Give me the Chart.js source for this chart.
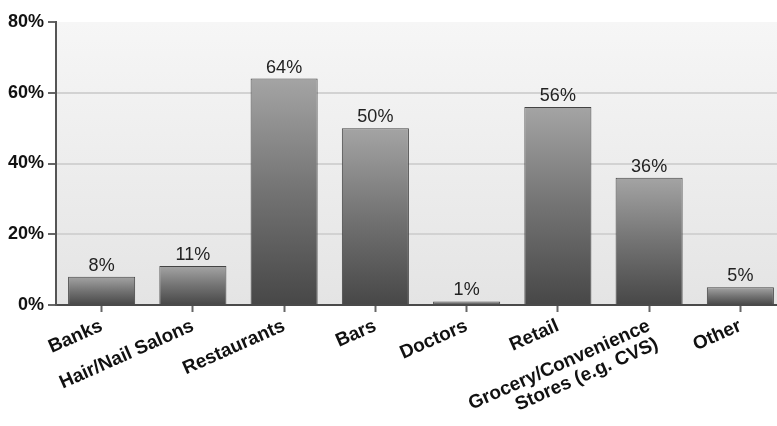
<!DOCTYPE html>
<html>
<head>
<meta charset="utf-8">
<script src="https://cdn.jsdelivr.net/npm/chart.js@4"></script>
<style>
  html, body { margin: 0; padding: 0; background: #ffffff; overflow: hidden; }
  #wrap { position: relative; width: 790px; height: 426px; }
</style>
</head>
<body>
<div id="wrap"><canvas id="c"></canvas></div>
<script>
const categories = [
  'Banks',
  'Hair/Nail Salons',
  'Restaurants',
  'Bars',
  'Doctors',
  'Retail',
  ['Grocery/Convenience', 'Stores (e.g. CVS)'],
  'Other'
];
const percentValues = [8, 11, 64, 50, 1, 56, 36, 5];
const yTickValues = [0, 20, 40, 60, 80];

const bgPlugin = {
  id: 'bgPlugin',
  beforeDraw(chart) {
    const { ctx, chartArea: a } = chart;
    ctx.save();
    ctx.fillStyle = '#ffffff';
    ctx.fillRect(0, 0, chart.width, chart.height);
    const g = ctx.createLinearGradient(0, a.top, 0, a.bottom);
    g.addColorStop(0, '#f6f6f6');
    g.addColorStop(1, '#e4e4e4');
    ctx.fillStyle = g;
    ctx.fillRect(a.left, a.top, a.right - a.left, a.bottom - a.top);
    ctx.restore();
  }
};

const labelPlugin = {
  id: 'labelPlugin',
  afterDatasetsDraw(chart) {
    const { ctx } = chart;
    const meta = chart.getDatasetMeta(0);
    ctx.save();
    ctx.font = '18px "Liberation Sans", Arial, sans-serif';
    ctx.fillStyle = '#222222';
    ctx.textAlign = 'center';
    ctx.textBaseline = 'bottom';
    meta.data.forEach((bar, i) => {
      ctx.fillText(percentValues[i] + '%', bar.x, bar.y - 2);
    });
    ctx.restore();
  }
};

function barGradient(context) {
  const chart = context.chart;
  const y = chart.scales && chart.scales.y;
  if (!y || !chart.chartArea || context.parsed === undefined) return '#777777';
  const top = y.getPixelForValue(context.parsed.y);
  const bottom = y.getPixelForValue(0);
  const g = chart.ctx.createLinearGradient(0, top, 0, bottom);
  g.addColorStop(0, '#a4a4a4');
  g.addColorStop(0.5, '#737373');
  g.addColorStop(1, '#474747');
  return g;
}

new Chart(document.getElementById('c'), {
  type: 'bar',
  data: {
    labels: categories,
    datasets: [{
      data: percentValues,
      backgroundColor: barGradient,
      borderColor: '#444444',
      borderWidth: 1,
      barPercentage: 0.735,
      categoryPercentage: 1.0
    }]
  },
  options: {
    responsive: true,
    maintainAspectRatio: false,
    animation: false,
    devicePixelRatio: 1,
    layout: { padding: { top: 22, right: 4, left: 0, bottom: 0 } },
    plugins: {
      legend: { display: false },
      tooltip: { enabled: false }
    },
    scales: {
      x: {
        offset: true,
        grid: {
          offset: false,
          drawOnChartArea: false,
          drawTicks: true,
          tickLength: 7,
          tickColor: '#666666',
          tickWidth: 2
        },
        border: { display: true, color: '#4a4a4a', width: 2 },
        ticks: {
          autoSkip: false,
          minRotation: 24,
          maxRotation: 24,
          padding: 4,
          color: '#111111',
          font: { family: '"Liberation Sans", Arial, sans-serif', size: 19, weight: 'bold', lineHeight: 1.05 }
        },
        afterFit(scale) { scale.height = 121; }
      },
      y: {
        min: 0,
        max: 80,
        afterBuildTicks(scale) { scale.ticks = yTickValues.map(v => ({ value: v })); },
        grid: {
          color: (c) => (c.tick && (c.tick.value === 80 || c.tick.value === 0)) ? 'rgba(0,0,0,0)' : '#d2d2d2',
          lineWidth: 2,
          drawTicks: true,
          tickLength: 8,
          tickColor: '#666666',
          tickWidth: 2
        },
        border: { display: true, color: '#555555', width: 2 },
        ticks: {
          padding: 4,
          color: '#111111',
          font: { family: '"Liberation Sans", Arial, sans-serif', size: 18, weight: 'bold' },
          callback: (v) => v + '%'
        },
        afterFit(scale) { scale.width = 56; }
      }
    }
  },
  plugins: [bgPlugin, labelPlugin]
});
</script>
</body>
</html>
